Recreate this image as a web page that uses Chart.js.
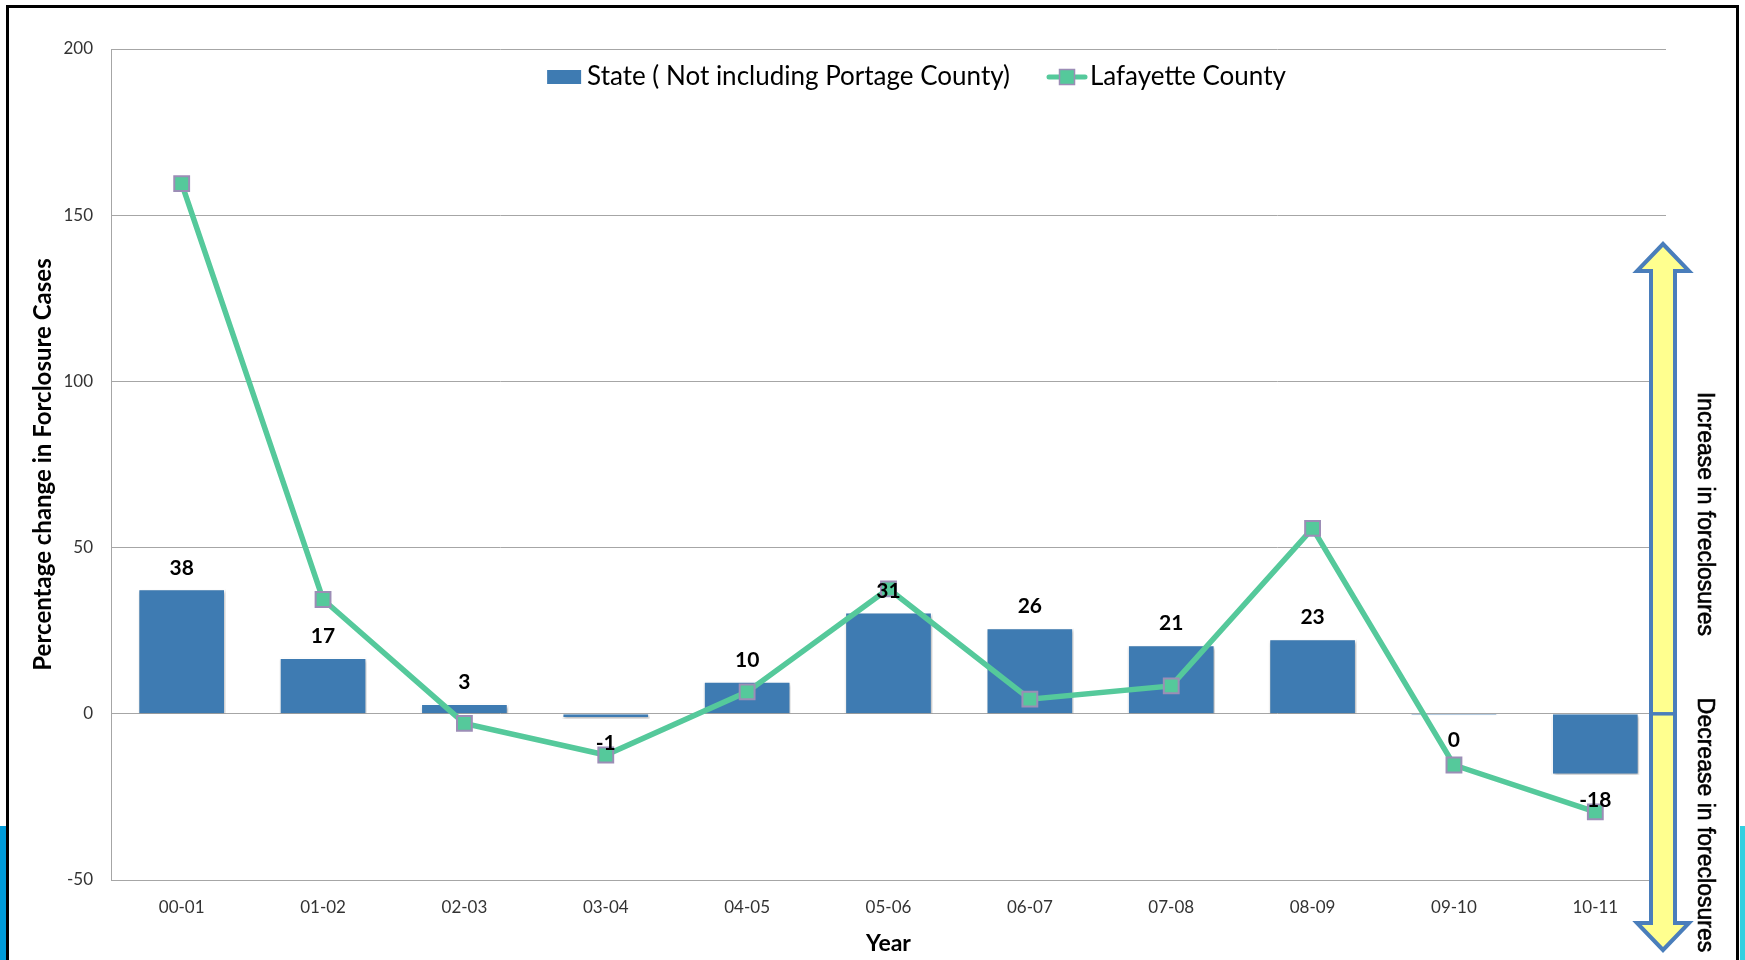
<!DOCTYPE html>
<html>
<head>
<meta charset="utf-8">
<title>Percentage change in Forclosure Cases</title>
<script src="https://cdn.jsdelivr.net/npm/chart.js@4.4.1/dist/chart.umd.min.js"></script>
<style>
  html, body { margin: 0; padding: 0; background: #fff; overflow: hidden; }
  #wrap { position: relative; width: 1745px; height: 960px; }
  .frame { position: absolute; left: 6px; top: 5px; width: 1733px; height: 1000px; border: 3px solid #000; box-sizing: border-box; }
  .stripLeft { position: absolute; left: 0; top: 826px; width: 6px; height: 134px; background: #009bd9; }
  .stripRight { position: absolute; left: 1740px; top: 826px; width: 5px; height: 134px; background: #33d0e0; }
  canvas { position: absolute; left: 0; top: 0; }
</style>
</head>
<body>
<div id="wrap">
  <div class="frame"></div>
  <div class="stripLeft"></div>
  <div class="stripRight"></div>
  <canvas id="myChart" width="1745" height="960"></canvas>
</div>
<script>
const years = ["00-01", "01-02", "02-03", "03-04", "04-05", "05-06", "06-07", "07-08", "08-09", "09-10", "10-11"];
const stateChange = [37.6, 16.9, 3.1, -1.4, 9.8, 30.6, 25.9, 20.8, 22.6, -0.4, -18.4];
const lafayetteChange = [159.5, 34.4, -2.9, -12.4, 6.6, 37.6, 4.4, 8.4, 55.8, -15.4, -29.5];
const yMin = -50;
const yMax = 200;
const yStep = 50;

const barBlue = "#3e7bb2";
const lineGreen = "#55c99b";
const markerBorder = "#9c8db6";

const ctx = document.getElementById("myChart");

// soft shadow under the bars
const barShadow = {
  id: "barShadow",
  beforeDatasetDraw(chart, args) {
    if (args.meta.type !== "bar") return;
    const c = chart.ctx;
    c.save();
    c.shadowColor = "rgba(0,0,0,0.35)";
    c.shadowBlur = 3;
    c.shadowOffsetX = 1;
    c.shadowOffsetY = 2;
  },
  afterDatasetDraw(chart, args) {
    if (args.meta.type !== "bar") return;
    chart.ctx.restore();
  },
};

// rounded values at the outer end of each bar
const barLabels = {
  id: "barLabels",
  afterDatasetsDraw(chart) {
    const c = chart.ctx;
    const meta = chart.getDatasetMeta(0);
    const values = chart.data.datasets[0].data;
    c.save();
    c.font = "bold 21px Lato";
    c.fillStyle = "#000";
    c.textAlign = "center";
    c.textBaseline = "middle";
    meta.data.forEach((bar, i) => {
      const v = values[i];
      const y = v > 0 ? bar.y - 21 : bar.y + 25;
      c.fillText(String(Math.round(v) || 0), bar.x, y);
    });
    c.restore();
  },
};

// legend sitting inside the plot, under the top gridline
const topLegend = {
  id: "topLegend",
  afterDraw(chart) {
    const c = chart.ctx;
    const area = chart.chartArea;
    const bar = chart.data.datasets[0];
    const line = chart.data.datasets[1];
    c.save();
    c.font = "26px Lato";
    const w1 = c.measureText(bar.label).width;
    const w2 = c.measureText(line.label).width;
    const total = 34 + 6 + w1 + 37 + 40 + 3 + w2;
    let x = (area.left + area.right) / 2 + 28 - total / 2;
    const y = 77;

    c.fillStyle = bar.backgroundColor;
    c.fillRect(x, y - 7, 34, 14);
    x += 40;
    c.fillStyle = "#000";
    c.textBaseline = "middle";
    c.fillText(bar.label, x, y);
    x += w1 + 37;

    c.strokeStyle = line.borderColor;
    c.lineWidth = 5;
    c.lineCap = "round";
    c.beginPath();
    c.moveTo(x + 2, y);
    c.lineTo(x + 38, y);
    c.stroke();
    c.fillStyle = line.pointBackgroundColor;
    c.fillRect(x + 12.5, y - 7.5, 15, 15);
    c.strokeStyle = line.pointBorderColor;
    c.lineWidth = 1.5;
    c.strokeRect(x + 12.5, y - 7.5, 15, 15);
    x += 43;
    c.fillStyle = "#000";
    c.fillText(line.label, x, y);
    c.restore();
  },
};

// double arrow on the right with its two captions
const sideArrow = {
  id: "sideArrow",
  afterDraw(chart) {
    const c = chart.ctx;
    const cx = chart.chartArea.right - 3;
    const zero = chart.scales.y.getPixelForValue(0);
    const top = 244;
    const bottom = 950;
    const head = 27;
    const hw = 26;
    const sw = 12;
    c.save();
    c.beginPath();
    c.moveTo(cx, top);
    c.lineTo(cx + hw, top + head);
    c.lineTo(cx + sw, top + head);
    c.lineTo(cx + sw, bottom - head);
    c.lineTo(cx + hw, bottom - head);
    c.lineTo(cx, bottom);
    c.lineTo(cx - hw, bottom - head);
    c.lineTo(cx - sw, bottom - head);
    c.lineTo(cx - sw, top + head);
    c.lineTo(cx - hw, top + head);
    c.closePath();
    c.fillStyle = "#ffff8f";
    c.fill();
    c.strokeStyle = "#4a7ebb";
    c.lineWidth = 4;
    c.lineJoin = "miter";
    c.stroke();
    c.beginPath();
    c.moveTo(cx - sw, zero);
    c.lineTo(cx + sw, zero);
    c.lineWidth = 3.5;
    c.stroke();

    c.font = "23px 'Liberation Sans'";
    c.fillStyle = "#000";
    c.strokeStyle = "#000";
    c.lineWidth = 0.6;
    c.textAlign = "center";
    c.textBaseline = "middle";
    [["Increase in foreclosures", 514], ["Decrease in foreclosures", 825]].forEach(([t, ty]) => {
      c.save();
      c.translate(1704, ty);
      c.rotate(Math.PI / 2);
      c.fillText(t, 0, 0);
      c.strokeText(t, 0, 0);
      c.restore();
    });
    c.restore();
  },
};

const data = {
  labels: years,
  datasets: [
    {
      type: "bar",
      label: "State ( Not including Portage County)",
      data: stateChange,
      backgroundColor: barBlue,
      borderColor: "#ffffff",
      borderWidth: 1.5,
      barPercentage: 0.62,
      categoryPercentage: 1,
      order: 2,
    },
    {
      type: "line",
      label: "Lafayette County",
      data: lafayetteChange,
      borderColor: lineGreen,
      borderWidth: 5.5,
      tension: 0,
      pointStyle: "rect",
      pointRadius: 10.5,
      pointBackgroundColor: lineGreen,
      pointBorderColor: markerBorder,
      pointBorderWidth: 2,
      order: 1,
    },
  ],
};

const myChart = new Chart(ctx, {
  data: data,
  options: {
    responsive: false,
    devicePixelRatio: 1,
    animation: false,
    layout: { padding: { left: 0, top: 49, right: 79, bottom: 0 } },
    plugins: {
      legend: { display: false },
      tooltip: { enabled: false },
    },
    scales: {
      x: {
        grid: { display: false },
        border: { display: true, color: "#a6a6a6" },
        ticks: { font: { family: "Lato", size: 17 }, color: "#333", padding: 9 },
        title: {
          display: true,
          text: "Year",
          font: { family: "Lato", size: 23, weight: "bold" },
          color: "#000",
          padding: { top: 0, bottom: 3 },
        },
        afterFit(scale) {
          scale.height = 80;
        },
      },
      y: {
        min: yMin,
        max: yMax,
        ticks: { stepSize: yStep, font: { family: "Lato", size: 17 }, color: "#333", padding: 18 },
        grid: { color: "#a6a6a6", lineWidth: 1, drawTicks: false },
        border: { display: true, color: "#a6a6a6" },
        title: {
          display: true,
          text: "Percentage change in Forclosure Cases",
          font: { family: "Lato", size: 24, weight: "bold" },
          color: "#000",
          padding: { top: 29, bottom: 0 },
        },
        afterFit(scale) {
          scale.width = 111;
        },
      },
    },
  },
  plugins: [barShadow, barLabels, topLegend, sideArrow],
});
</script>
</body>
</html>
